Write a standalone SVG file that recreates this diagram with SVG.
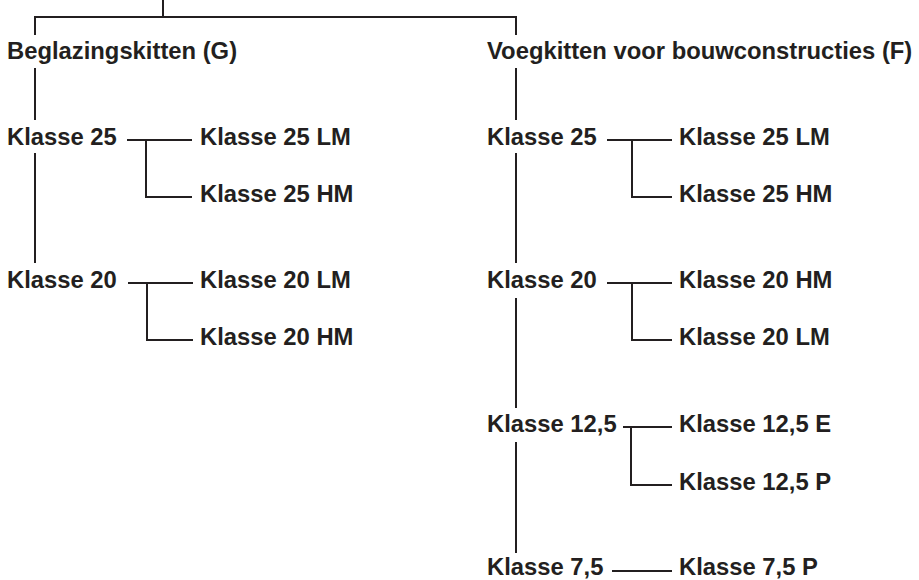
<svg xmlns="http://www.w3.org/2000/svg" width="919" height="580" viewBox="0 0 919 580">
<style>
text{font-family:"Liberation Sans",Arial,sans-serif;font-weight:bold;font-size:23.8px;fill:#231f20}
.c line,.c polyline{stroke:#231f20;stroke-width:2;fill:none}
</style>
<rect width="919" height="580" fill="#fff"/>
<g class="c" id="connectors">
<line x1="163" y1="0" x2="163" y2="17"/>
<polyline points="35,35 35,17 516,17 516,35"/>
<line x1="35" y1="68" x2="35" y2="120"/>
<line x1="35" y1="153" x2="35" y2="263"/>
<line x1="516" y1="68" x2="516" y2="120"/>
<line x1="516" y1="153" x2="516" y2="263"/>
<line x1="516" y1="298" x2="516" y2="408"/>
<line x1="516" y1="442" x2="516" y2="553"/>
<line x1="127" y1="140" x2="192" y2="140"/>
<polyline points="146,140 146,197 192,197"/>
<line x1="128" y1="283" x2="193" y2="283"/>
<polyline points="147,283 147,340 193,340"/>
<line x1="607" y1="140" x2="672" y2="140"/>
<polyline points="632,140 632,197 672,197"/>
<line x1="607" y1="283" x2="672" y2="283"/>
<polyline points="632,283 632,340 672,340"/>
<line x1="623" y1="427" x2="672" y2="427"/>
<polyline points="631,427 631,485 672,485"/>
<line x1="612" y1="571" x2="672" y2="571"/>
</g>
<g id="g"><text x="7" y="59">Beglazingskitten (G)</text></g>
<g id="f"><text x="487" y="59">Voegkitten voor bouwconstructies (F)</text></g>
<g id="g25"><text x="7" y="145">Klasse 25</text></g>
<g id="g25lm"><text x="200" y="145">Klasse 25 LM</text></g>
<g id="g25hm"><text x="200" y="202">Klasse 25 HM</text></g>
<g id="g20"><text x="7" y="288">Klasse 20</text></g>
<g id="g20lm"><text x="200" y="288">Klasse 20 LM</text></g>
<g id="g20hm"><text x="200" y="345">Klasse 20 HM</text></g>
<g id="f25"><text x="487" y="145">Klasse 25</text></g>
<g id="f25lm"><text x="679" y="145">Klasse 25 LM</text></g>
<g id="f25hm"><text x="679" y="202">Klasse 25 HM</text></g>
<g id="f20"><text x="487" y="288">Klasse 20</text></g>
<g id="f20hm"><text x="679" y="288">Klasse 20 HM</text></g>
<g id="f20lm"><text x="679" y="345">Klasse 20 LM</text></g>
<g id="f125"><text x="487" y="432">Klasse 12,5</text></g>
<g id="f125e"><text x="679" y="432">Klasse 12,5 E</text></g>
<g id="f125p"><text x="679" y="490">Klasse 12,5 P</text></g>
<g id="f75"><text x="487" y="575">Klasse 7,5</text></g>
<g id="f75p"><text x="679" y="575">Klasse 7,5 P</text></g>
</svg>
